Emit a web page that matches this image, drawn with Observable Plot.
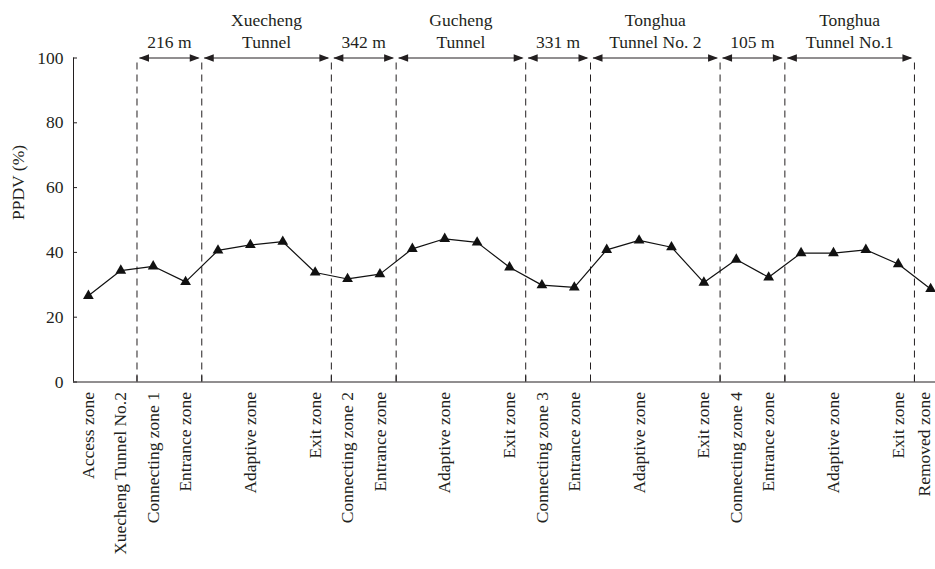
<!DOCTYPE html>
<html>
<head>
<meta charset="utf-8">
<script src="https://cdn.jsdelivr.net/npm/d3@7"></script>
<script src="https://cdn.jsdelivr.net/npm/@observablehq/plot@0.6"></script>
<style>
  html, body { margin: 0; padding: 0; background: #fff; }
  svg text { font-family: 'Liberation Serif', serif; }
</style>
</head>
<body>
<div id="chart"></div>
<script>
// Zone labels along the route (one per measuring point)
const zoneLabels = [
  "Access zone", "Xuecheng Tunnel No.2", "Connecting zone 1", "Entrance zone",
  "", "Adaptive zone", "", "Exit zone",
  "Connecting zone 2", "Entrance zone", "", "Adaptive zone", "", "Exit zone",
  "Connecting zone 3", "Entrance zone", "", "Adaptive zone", "", "Exit zone",
  "Connecting zone 4", "Entrance zone", "", "Adaptive zone", "", "Exit zone",
  "Removed zone"
];
// PPDV (%) values at each point
const ppdv = [
  26.6, 34.4, 35.7, 30.9, 40.6, 42.3, 43.3, 33.8,
  31.8, 33.3, 41.1, 44.2, 43.1, 35.4,
  29.9, 29.2, 40.8, 43.7, 41.6, 30.7,
  37.8, 32.3, 39.8, 39.8, 40.8, 36.4,
  28.7
];
// Section boundaries (between point positions)
const boundaries = [1.5, 3.5, 7.5, 9.5, 13.5, 15.5, 19.5, 21.5, 25.5];
// Section labels over the spans between consecutive boundaries
const sectionLabels = [
  "216 m", "Xuecheng\nTunnel", "342 m", "Gucheng\nTunnel",
  "331 m", "Tonghua\nTunnel No. 2", "105 m", "Tonghua\nTunnel No.1"
];
const yTicks = [0, 20, 40, 60, 80, 100];

const points = ppdv.map((v, i) => ({i, v, label: zoneLabels[i]}));
const last = points.length - 1;
const spans = sectionLabels.map((t, k) => ({a: boundaries[k], b: boundaries[k + 1], text: t, mid: (boundaries[k] + boundaries[k + 1]) / 2}));

const ink = "#231f20";
const serif = "'Liberation Serif', serif";
const headRight = {draw(ctx) { ctx.moveTo(0, 0); ctx.lineTo(-10, -3.8); ctx.lineTo(-10, 3.8); ctx.closePath(); }};
const headLeft = {draw(ctx) { ctx.moveTo(0, 0); ctx.lineTo(10, -3.8); ctx.lineTo(10, 3.8); ctx.closePath(); }};

const chart = Plot.plot({
  width: 935,
  height: 569,
  marginLeft: 73,
  marginRight: 0,
  marginTop: 57.5,
  marginBottom: 187.5,
  style: {fontFamily: serif, fontSize: "17.5px", color: ink, background: "#fff"},
  x: {type: "linear", domain: [-0.46, 26.15], axis: null},
  y: {domain: [0, 100], axis: null},
  marks: [
    // dashed section boundaries
    Plot.ruleX(boundaries, {y1: 0, y2: 100, stroke: ink, strokeWidth: 1, strokeDasharray: "7,5"}),
    // axes
    Plot.axisY(yTicks, {anchor: "left", tickSize: -4, tickPadding: 14, label: null, fontSize: 17.5, fontFamily: serif}),
    Plot.axisX(boundaries, {anchor: "bottom", tickSize: -6, tickFormat: () => "", label: null}),
    Plot.ruleY([0], {stroke: ink, strokeWidth: 1}),
    Plot.ruleX([-0.46], {y1: 0, y2: 100, stroke: ink, strokeWidth: 1}),
    // y label
    Plot.text(["PPDV (%)"], {frameAnchor: "left", rotate: -90, dx: -55, fill: ink, fontSize: 17.5, fontFamily: serif}),
    // section arrows
    Plot.ruleY(spans, {x1: "a", x2: "b", y: 100, insetLeft: 3, insetRight: 3, stroke: ink, strokeWidth: 1}),
    Plot.dot(spans, {x: "a", y: 100, dx: 2, symbol: headLeft, fill: ink, stroke: "none"}),
    Plot.dot(spans, {x: "b", y: 100, dx: -2, symbol: headRight, fill: ink, stroke: "none"}),
    Plot.text(spans, {x: "mid", y: 100, text: "text", lineAnchor: "bottom", lineHeight: 1.26, dy: -10, fill: ink, fontSize: 17.5, fontFamily: serif}),
    // data
    Plot.line(points, {x: "i", y: "v", stroke: "#111", strokeWidth: 1.2}),
    Plot.dot(points, {x: "i", y: "v", symbol: "triangle", r: 4, fill: "#111", stroke: "none"}),
    // zone labels
    Plot.text(points.slice(0, last), {x: "i", y: 0, text: "label", rotate: -90, textAnchor: "end", dy: 10, fill: ink, fontSize: 17.5, fontFamily: serif}),
    Plot.text(points.slice(last), {x: "i", y: 0, text: "label", rotate: -90, textAnchor: "end", dy: 10, dx: -6, fill: ink, fontSize: 17.5, fontFamily: serif})
  ]
});
document.getElementById("chart").appendChild(chart);
</script>
</body>
</html>
